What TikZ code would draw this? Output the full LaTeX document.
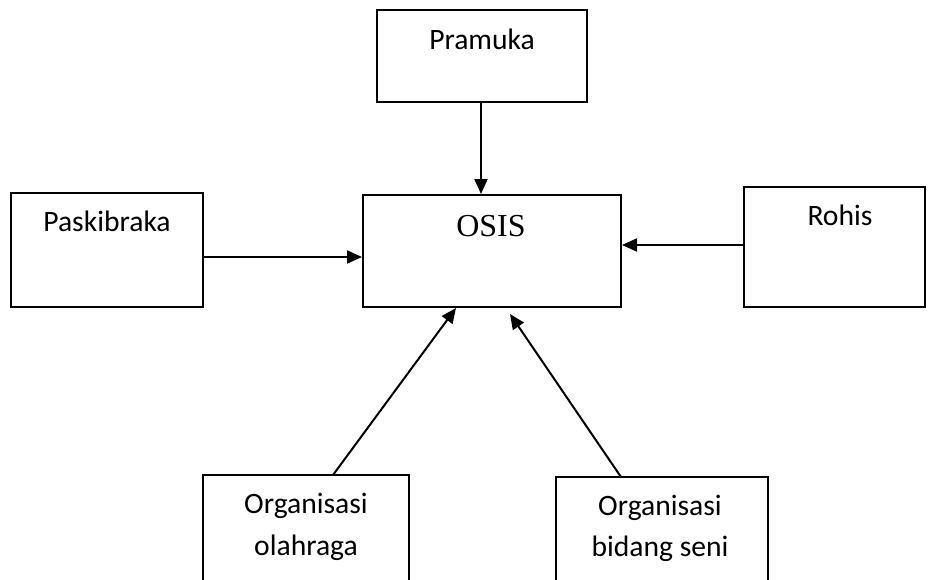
\documentclass[tikz,border=0pt]{standalone}
\usepackage{fontspec}
\setmainfont{Carlito}
\newfontfamily\osisfont{Liberation Serif}
\usetikzlibrary{arrows.meta}
\begin{document}
\begin{tikzpicture}[x=1pt,y=-1pt,
  box/.style={draw=black, line width=2pt, fill=white, inner sep=0pt, rectangle},
  lbl/.style={anchor=base, inner sep=0pt, font=\fontsize{29.6}{35}\selectfont},
  arr/.style={line width=2pt, -{Triangle[length=15pt,width=13pt]}}]
\useasboundingbox (0,0) rectangle (928,579);
\clip (0,0) rectangle (928,579);

% boxes
\node[box, minimum width=210pt, minimum height=92pt] (pramuka) at (482,56) {};
\node[box, minimum width=258pt, minimum height=112pt] (osis) at (492,251) {};
\node[box, minimum width=192pt, minimum height=114pt] (pask) at (107,250) {};
\node[box, minimum width=181pt, minimum height=120pt] (rohis) at (834.5,247) {};
\node[box, minimum width=206pt, minimum height=120pt] (ola) at (306,535) {};
\node[box, minimum width=212pt, minimum height=120pt] (seni) at (662,537) {};

% labels
\node[lbl] (tPramuka) at (482,49.5) {Pramuka};
\node[lbl, font=\osisfont\fontsize{32}{37}\selectfont] (tOsis) at (491,236) {OSIS};
\node[lbl] (tPask) at (107,231.5) {Paskibraka};
\node[lbl] (tRohis) at (840,225.5) {Rohis};
\node[lbl] (tOla1) at (306,513.5) {Organisasi};
\node[lbl] (tOla2) at (306,555) {olahraga};
\node[lbl] (tSeni1) at (660,515) {Organisasi};
\node[lbl] (tSeni2) at (660,556.5) {bidang seni};

% connector end points
\coordinate (olaTop) at (333,475);
\coordinate (olaTip) at (456,308);
\coordinate (seniTop) at (621,477);
\coordinate (seniTip) at (510,314);

% connectors
\draw[arr] (pramuka.south -| 481,0) -- (osis.north -| 481,0);
\draw[arr] (pask.east |- 0,257) -- (osis.west |- 0,257);
\draw[arr] (rohis.west |- 0,245) -- (osis.east |- 0,245);
\draw[arr] (olaTop) -- (olaTip);
\draw[arr] (seniTop) -- (seniTip);
\end{tikzpicture}
\end{document}
